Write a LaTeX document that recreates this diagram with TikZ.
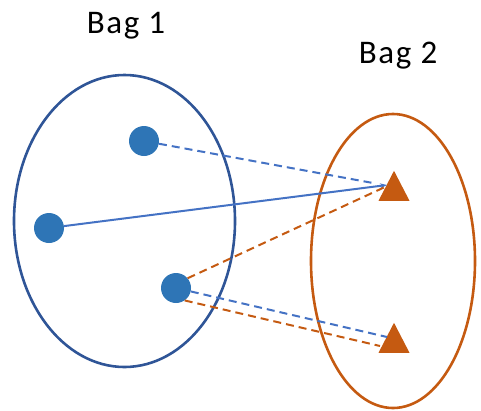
\documentclass[tikz,border=0pt]{standalone}
\usepackage{fontspec}
\setmainfont{Carlito}
\newfontfamily\labfont[LetterSpace=5]{Carlito}
\usetikzlibrary{shapes.geometric,arrows.meta}
\definecolor{bagblue}{HTML}{2F5597}
\definecolor{dotblue}{HTML}{2E75B6}
\definecolor{lineblue}{HTML}{4472C4}
\definecolor{tri}{HTML}{C55A11}
\tikzset{
  bag/.style={draw, ellipse, line width=2.6pt, inner sep=0pt},
  dotnode/.style={circle, fill=dotblue, minimum size=30pt, inner sep=0pt},
  trinode/.style={isosceles triangle, shape border rotate=90, isosceles triangle stretches,
    fill=tri, minimum width=31pt, minimum height=30pt, inner sep=0pt, anchor=south},
  conn/.style={line width=2pt},
  dashline/.style={dash pattern=on 8pt off 5pt},
  lab/.style={font=\labfont\fontsize{33}{38}\selectfont, text=black, anchor=base, inner sep=0pt}
}
\begin{document}
\begin{tikzpicture}[x=1pt,y=-1pt]
\useasboundingbox (0,0) rectangle (481,410);
\node[bag, draw=bagblue, minimum width=221pt, minimum height=292pt] (bag1) at (124.5,221) {};
\node[bag, draw=tri, minimum width=164pt, minimum height=294pt] (bag2) at (393,261) {};
\node[lab] (l1) at (126,33) {Bag 1};
\node[lab] (l2) at (398,63) {Bag 2};
\node[dotnode] (d1) at (144,141) {};
\node[dotnode] (d2) at (49,228) {};
\node[dotnode] (d3) at (176,288) {};
\node[trinode] (t1) at (394,201) {};
\node[trinode] (t2) at (394,353) {};
\coordinate (e1) at (373,183);
\coordinate (e2) at (387,185);
\coordinate (e3) at (385,187);
\coordinate (e4) at (387,337);
\coordinate (e5) at (380,346);
\draw[conn, dashline, lineblue] (d1) -- (e1);
\draw[conn, lineblue, -{Stealth[length=7pt,width=5pt]}] (d2) -- (e2);
\draw[conn, dashline, tri] (d3.40) -- (e3);
\draw[conn, dashline, lineblue] (d3) -- (e4);
\draw[conn, dashline, tri] (d3.-55) -- (e5);
\end{tikzpicture}
\end{document}
